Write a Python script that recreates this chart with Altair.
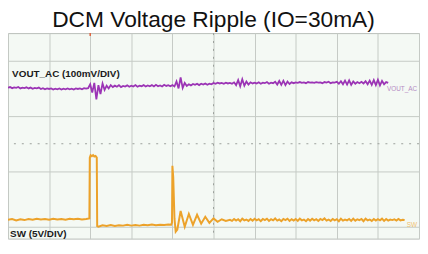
import altair as alt
import pandas as pd

# Oscilloscope screen: x in divisions (0..10), y in divisions (centre = 0)
SAMPLE_STEP = 0.05  # divisions per purple sample

vout_ac = [
    2.03, 2.05, 2.01, 2.04, 2.02, 2.05, 2.00, 2.03, 2.01, 2.04,
    2.00, 2.03, 1.99, 2.02, 2.00, 2.03, 1.98, 2.01, 1.97, 2.00,
    1.98, 2.00, 1.96, 1.99, 1.97, 2.00, 1.96, 1.99, 1.97, 2.00,
    1.97, 1.99, 1.96, 2.00, 1.98, 2.00, 1.97, 2.01, 1.99, 2.01,
    2.15, 1.85, 2.20, 1.60, 2.12, 1.80, 2.18, 1.95, 2.10, 2.00,
    2.12, 2.05, 2.10, 2.06, 2.12, 2.05, 2.09, 2.07, 2.11, 2.06,
    2.10, 2.07, 2.12, 2.06, 2.10, 2.08, 2.12, 2.07, 2.11, 2.08,
    2.12, 2.07, 2.13, 2.08, 2.11, 2.07, 2.13, 2.09, 2.12, 2.08,
    2.12, 2.07, 2.25, 2.00, 2.40, 2.02, 2.20, 2.09, 2.15, 2.11,
    2.16, 2.13, 2.17, 2.12, 2.17, 2.14, 2.18, 2.13, 2.17, 2.15,
    2.20, 2.17, 2.21, 2.18, 2.20, 2.17, 2.21, 2.18, 2.20, 2.17,
    2.22, 2.12, 2.30, 2.08, 2.33, 2.10, 2.25, 2.14, 2.22, 2.18,
    2.21, 2.18, 2.22, 2.17, 2.21, 2.19, 2.23, 2.17, 2.21, 2.19,
    2.24, 2.14, 2.27, 2.13, 2.28, 2.12, 2.25, 2.16, 2.22, 2.19,
    2.22, 2.20, 2.23, 2.20, 2.22, 2.19, 2.23, 2.21, 2.22, 2.20,
    2.23, 2.21, 2.22, 2.19, 2.23, 2.21, 2.24, 2.19, 2.22, 2.21,
    2.24, 2.17, 2.26, 2.15, 2.28, 2.14, 2.29, 2.13, 2.25, 2.17,
    2.23, 2.19, 2.24, 2.18, 2.26, 2.15, 2.28, 2.13, 2.30, 2.12,
    2.31, 2.11, 2.27, 2.15, 2.23, 2.20,
]

sw_t = [
    0.00, 0.10, 0.20, 0.30, 0.40, 0.50, 0.60, 0.70, 0.80, 0.90,
    1.00, 1.10, 1.20, 1.30, 1.40, 1.50, 1.60, 1.70, 1.80, 1.90, 1.98,
    1.99, 2.01, 2.04, 2.07, 2.10, 2.13, 2.16,
    2.17, 2.20, 2.30, 2.40, 2.50, 2.60, 2.70, 2.80, 2.90, 3.00,
    3.10, 3.20, 3.30, 3.40, 3.50, 3.60, 3.70, 3.80, 3.90, 3.97,
    3.99, 4.00, 4.02, 4.05, 4.08, 4.12, 4.20, 4.30, 4.40, 4.50,
    4.60, 4.70, 4.80, 4.90, 5.00, 5.10, 5.20, 5.30,
    5.40, 5.45, 5.50, 5.55, 5.60, 5.65, 5.70, 5.75, 5.80, 5.85,
    5.90, 5.95, 6.00, 6.05, 6.10, 6.15, 6.20, 6.25, 6.30, 6.35,
    6.40, 6.45, 6.50, 6.55, 6.60, 6.65, 6.70, 6.75, 6.80, 6.85,
    6.90, 6.95, 7.00, 7.05, 7.10, 7.15, 7.20, 7.25, 7.30, 7.35,
    7.40, 7.45, 7.50, 7.55, 7.60, 7.65, 7.70, 7.75, 7.80, 7.85,
    7.90, 7.95, 8.00, 8.05, 8.10, 8.15, 8.20, 8.25, 8.30, 8.35,
    8.40, 8.45, 8.50, 8.55, 8.60, 8.65, 8.70, 8.75, 8.80, 8.85,
    8.90, 8.95, 9.00, 9.05, 9.10, 9.15, 9.20, 9.25, 9.30, 9.35,
    9.40, 9.45, 9.50, 9.55, 9.60, 9.65,
]
sw_v = [
    -2.75, -2.72, -2.77, -2.73, -2.76, -2.72, -2.75, -2.71, -2.74, -2.72,
    -2.75, -2.71, -2.74, -2.72, -2.75, -2.71, -2.73, -2.71, -2.74, -2.72, -2.70,
    -0.50, -0.42, -0.45, -0.41, -0.46, -0.44, -0.50,
    -2.98, -3.00, -2.95, -2.97, -2.94, -2.97, -2.95, -2.96, -2.93, -2.96,
    -2.94, -2.96, -2.93, -2.95, -2.92, -2.95, -2.93, -2.94, -2.92, -2.93,
    -2.85, -0.80, -1.20, -2.70, -3.18, -3.10, -2.43, -3.00, -2.54, -2.93,
    -2.57, -2.89, -2.64, -2.86, -2.70, -2.82, -2.73, -2.79,
    -2.75, -2.79, -2.72, -2.78, -2.73, -2.80, -2.71, -2.77, -2.74, -2.79,
    -2.72, -2.78, -2.71, -2.77, -2.73, -2.80, -2.72, -2.76, -2.71, -2.79,
    -2.73, -2.77, -2.70, -2.78, -2.74, -2.80, -2.72, -2.76, -2.71, -2.79,
    -2.73, -2.78, -2.72, -2.79, -2.71, -2.77, -2.74, -2.80, -2.72, -2.78,
    -2.71, -2.77, -2.73, -2.79, -2.72, -2.76, -2.70, -2.78, -2.74, -2.79,
    -2.72, -2.77, -2.73, -2.80, -2.71, -2.78, -2.74, -2.77, -2.72, -2.79,
    -2.71, -2.78, -2.73, -2.76, -2.72, -2.80, -2.71, -2.77, -2.74, -2.79,
    -2.72, -2.78, -2.73, -2.77, -2.71, -2.79, -2.72, -2.78, -2.74, -2.76,
    -2.73, -2.78, -2.72, -2.77, -2.75, -2.76,
]

grid_x = [0, 1, 2, 3, 4, 5, 6, 7, 8, 9, 10]
grid_y = [-4, -3, -2, -1, 0, 1, 2, 3, 4]

labels = ["VOUT_AC (100mV/DIV)", "SW (5V/DIV)"]
label_x = [0.1, 0.05]
label_y = [2.43, -3.36]

tags = ["VOUT_AC", "SW"]
tag_x = [9.22, 9.70]
tag_y = [1.98, -2.95]
tag_colors = ["#b48cc4", "#f0c070"]

trigger_t = [2.0]

PURPLE = "#9b34b5"
ORANGE = "#eca22a"
FONT = "Liberation Sans"

purple_df = pd.DataFrame({"t": [i * SAMPLE_STEP for i in range(len(vout_ac))], "v": vout_ac})
sw_df = pd.DataFrame({"t": sw_t, "v": sw_v})
lab_df = pd.DataFrame({"label": labels, "x": label_x, "y": label_y})
tag_df = pd.DataFrame({"tag": tags, "x": tag_x, "y": tag_y, "c": tag_colors})

xs = alt.Scale(domain=[0, 10], nice=False, zero=False)
ys = alt.Scale(domain=[-3.43, 4], nice=False, zero=False)

grid_axis_x = alt.Axis(values=grid_x, grid=True, labels=False, ticks=False, domain=False,
                       title=None, gridColor="#c5cac5", gridWidth=1, gridOpacity=1)
grid_axis_y = alt.Axis(values=grid_y, grid=True, labels=False, ticks=False, domain=False,
                       title=None, gridColor="#c5cac5", gridWidth=1, gridOpacity=1)

base_grid = alt.Chart(pd.DataFrame({"t": [0], "v": [0]})).mark_point(opacity=0).encode(
    x=alt.X("t:Q", scale=xs, axis=grid_axis_x),
    y=alt.Y("v:Q", scale=ys, axis=grid_axis_y),
)

centre_h = alt.Chart(pd.DataFrame({"v": [0]})).mark_rule(
    color="#9aa09a", strokeDash=[2, 6], strokeWidth=1
).encode(y=alt.Y("v:Q", scale=ys))
centre_v = alt.Chart(pd.DataFrame({"t": [5]})).mark_rule(
    color="#9aa09a", strokeDash=[2, 6], strokeWidth=1
).encode(x=alt.X("t:Q", scale=xs))

purple = alt.Chart(purple_df).mark_line(color=PURPLE, strokeWidth=1.8, interpolate="linear").encode(
    x=alt.X("t:Q", scale=xs), y=alt.Y("v:Q", scale=ys)
)
sw = alt.Chart(sw_df).mark_line(color=ORANGE, strokeWidth=2, interpolate="linear").encode(
    x=alt.X("t:Q", scale=xs), y=alt.Y("v:Q", scale=ys)
)

lab = alt.Chart(lab_df).mark_text(
    align="left", baseline="alphabetic", font=FONT, fontSize=10, fontWeight="bold", color="#1a1a1a"
).encode(x=alt.X("x:Q", scale=xs), y=alt.Y("y:Q", scale=ys), text="label:N")

tag = alt.Chart(tag_df).mark_text(
    align="left", baseline="middle", font=FONT, fontSize=6.5
).encode(x=alt.X("x:Q", scale=xs), y=alt.Y("y:Q", scale=ys), text="tag:N",
         color=alt.Color("c:N", scale=None))

trig = alt.Chart(pd.DataFrame({"t": trigger_t})).mark_rule(
    color="#e0603a", strokeWidth=1.5
).encode(x=alt.X("t:Q", scale=xs), y=alt.value(0), y2=alt.value(3))

chart = alt.layer(base_grid, centre_h, centre_v, purple, sw, lab, tag, trig).properties(
    width=416, height=208,
    title=alt.TitleParams("DCM Voltage Ripple (IO=30mA)", font=FONT, fontSize=23,
                          fontWeight="normal", color="#111111", anchor="middle", offset=0),
    padding={"left": -4, "top": 0, "right": 0, "bottom": 0},
).configure_view(fill="#f4f9f4", stroke="#b9beb9", strokeWidth=1)

chart.save("out.html", embed_options={"renderer": "svg", "actions": False})
